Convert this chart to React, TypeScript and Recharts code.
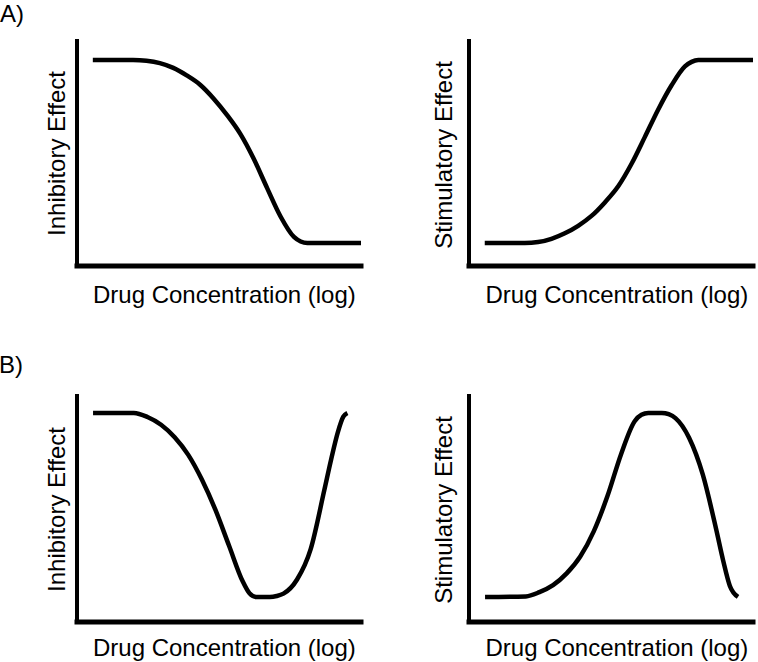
import { LineChart, Line, XAxis, YAxis } from "recharts";

// log drug concentration (arbitrary units) and response (% of max)
const concInhibA = [0, 1.5, 2, 2.5, 3, 3.5, 4, 4.5, 5, 5.5, 6, 6.5, 7, 7.5, 7.75, 8, 10];
const inhibA = [100, 100, 99.6, 98.3, 95.7, 91.6, 86.5, 79, 70, 59.6, 46, 30, 14.5, 3.3, 0.8, 0, 0];

const concStimA = [0, 1.5, 2, 2.5, 3, 3.5, 4, 4.5, 5, 5.5, 6, 6.5, 7, 7.5, 7.75, 8, 10.05];
const stimA = [0, 0, 0.5, 2.3, 5.3, 9.4, 14.8, 22.2, 31, 43.3, 58, 73, 86.2, 96.5, 99, 100, 100];

const concInhibB = [0, 1.5, 2, 2.5, 3, 3.5, 4, 4.5, 5, 5.5, 5.75, 6, 6.5, 6.75, 7, 7.5, 8, 8.5, 8.75, 9, 9.2, 9.35];
const inhibB = [100, 100, 97.8, 93.6, 86.8, 77.2, 63.8, 47.3, 27.8, 8.5, 2, 0, 0, 0.5, 1.8, 9.5, 26, 58, 74.6, 89.6, 98, 100];

const concStimB = [0, 1.5, 2, 2.5, 3, 3.5, 4, 4.5, 5, 5.5, 5.75, 6, 6.5, 6.75, 7, 7.5, 8, 8.5, 8.75, 9, 9.3];
const stimB = [0, 0.3, 2.6, 6.4, 12.8, 22, 35.8, 54.8, 77.6, 95.5, 99, 100, 100, 99.3, 97.2, 86.5, 66.7, 36.5, 20, 6, 0];

const xLabel = "Drug Concentration (log)";
const inhibLabel = "Inhibitory Effect";
const stimLabel = "Stimulatory Effect";

const FONT = "'Liberation Sans', Arial, Helvetica, sans-serif";

const toRows = (xs: number[], ys: number[]) => xs.map((x, i) => ({ x, y: ys[i] }));

interface PanelProps {
	xs: number[];
	ys: number[];
	left: number;
	top: number;
	width: number;
	height: number;
	margin: { top: number; right: number; bottom: number; left: number };
	yDomain: [number, number];
}

// axes take 10px each; the axis line sits on the plot edge
function Panel({ xs, ys, left, top, width, height, margin, yDomain }: PanelProps) {
	return (
		<div style={{ position: "absolute", left, top }}>
			<LineChart width={width} height={height} data={toRows(xs, ys)} margin={margin}>
				<XAxis
					type="number"
					dataKey="x"
					domain={[-0.59, 9.85]}
					height={10}
					tick={false}
					tickLine={false}
					axisLine={{ stroke: "#000", strokeWidth: 5, strokeLinecap: "square" }}
				/>
				<YAxis
					type="number"
					domain={yDomain}
					width={10}
					tick={false}
					tickLine={false}
					axisLine={{ stroke: "#000", strokeWidth: 4, strokeLinecap: "square" }}
				/>
				<Line
					type="monotone"
					dataKey="y"
					stroke="#000"
					strokeWidth={4.5}
					dot={false}
					activeDot={false}
					isAnimationActive={false}
				/>
			</LineChart>
		</div>
	);
}

export default function App() {
	const txt = { fontFamily: FONT, fontSize: 24, fill: "#000" };
	return (
		<div style={{ position: "absolute", left: 0, top: 0, width: 758, height: 662, background: "#fff", overflow: "hidden" }}>
			<Panel xs={concInhibA} ys={inhibA} left={0} top={0} width={379} height={320}
				margin={{ top: 41, right: 18, bottom: 44, left: 67 }} yDomain={[-12.57, 110.4]} />
			<Panel xs={concStimA} ys={stimA} left={379} top={0} width={379} height={320}
				margin={{ top: 41, right: 5, bottom: 44, left: 80 }} yDomain={[-12.57, 110.4]} />
			<Panel xs={concInhibB} ys={inhibB} left={0} top={330} width={379} height={332}
				margin={{ top: 66, right: 18, bottom: 30, left: 67 }} yDomain={[-13.6, 109.2]} />
			<Panel xs={concStimB} ys={stimB} left={379} top={330} width={379} height={332}
				margin={{ top: 66, right: 5, bottom: 30, left: 80 }} yDomain={[-13.6, 109.2]} />
			<svg width={758} height={662} style={{ position: "absolute", left: 0, top: 0, pointerEvents: "none" }}>
				<text x={0} y={22} {...txt}>A)</text>
				<text x={-1} y={372.5} {...txt}>B)</text>
				<text x={93} y={303} {...txt}>{xLabel}</text>
				<text x={485.5} y={303} {...txt}>{xLabel}</text>
				<text x={93} y={656} {...txt}>{xLabel}</text>
				<text x={485.5} y={656} {...txt}>{xLabel}</text>
				<text transform="translate(65,153.5) rotate(-90)" textAnchor="middle" {...txt}>{inhibLabel}</text>
				<text transform="translate(452,155) rotate(-90)" textAnchor="middle" {...txt}>{stimLabel}</text>
				<text transform="translate(65,509.5) rotate(-90)" textAnchor="middle" {...txt}>{inhibLabel}</text>
				<text transform="translate(452,510) rotate(-90)" textAnchor="middle" {...txt}>{stimLabel}</text>
			</svg>
		</div>
	);
}
